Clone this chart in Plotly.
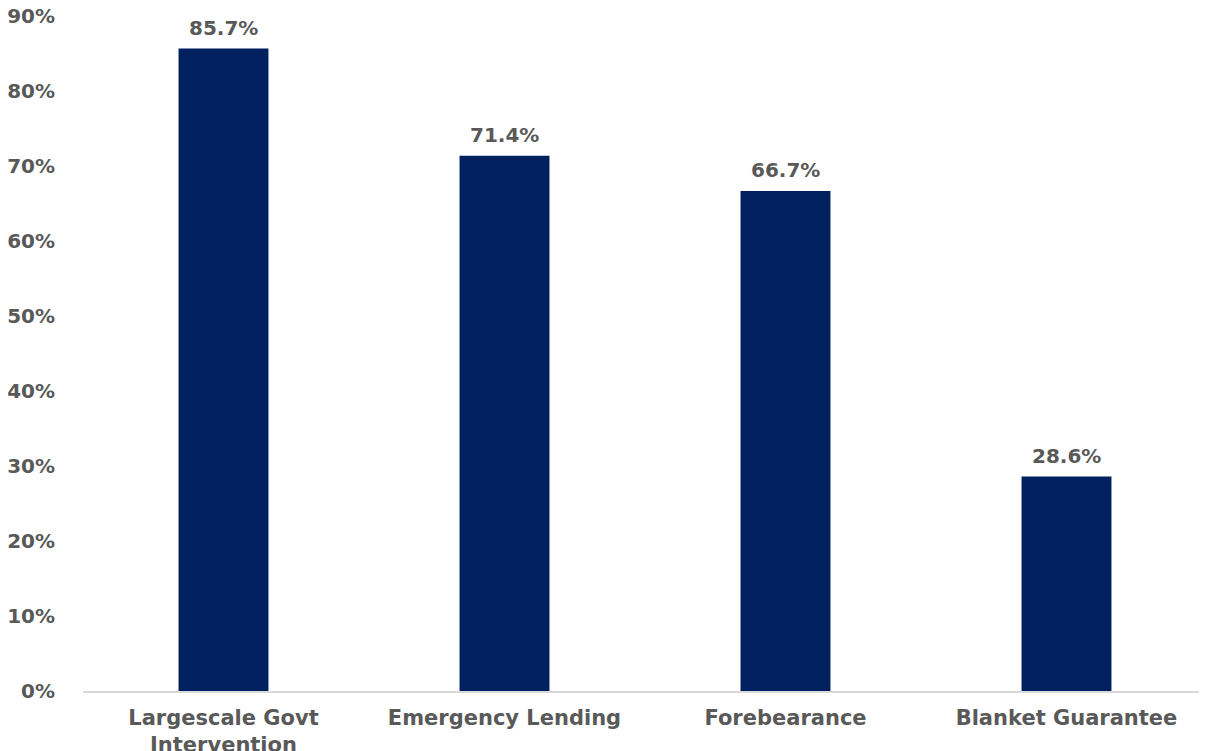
import plotly.graph_objects as go

categories = ["Largescale Govt<br>Intervention", "Emergency Lending", "Forebearance", "Blanket Guarantee"]
values = [0.857, 0.714, 0.667, 0.286]
labels = ["85.7%", "71.4%", "66.7%", "28.6%"]
tick_vals = [0, 0.1, 0.2, 0.3, 0.4, 0.5, 0.6, 0.7, 0.8, 0.9]
tick_text = ["0%", "10%", "20%", "30%", "40%", "50%", "60%", "70%", "80%", "90%"]

FONT = "DejaVu Sans"
GREY = "#595959"
SIZE = 20

fig = go.Figure(go.Bar(
    x=categories, y=values,
    marker=dict(color="#002060", line=dict(width=0)),
    width=0.32,
))
for c, v, t in zip(categories, values, labels):
    fig.add_annotation(x=c, y=v, text=t, showarrow=False, yanchor="bottom",
                       yshift=7, font=dict(family=FONT, size=SIZE, color=GREY, weight="bold"))
fig.update_layout(
    width=1207, height=751,
    margin=dict(l=75, r=8, t=8, b=68),
    paper_bgcolor="white", plot_bgcolor="white",
    showlegend=False,
    font=dict(family=FONT, size=SIZE, color=GREY, weight="bold"),
)
fig.update_yaxes(range=[0, 0.9005], tickvals=tick_vals, ticktext=tick_text,
                 showgrid=False, zeroline=False, showline=False,
                 ticklabelstandoff=27, automargin=False,
                 ticklabeloverflow="allow",
                 tickfont=dict(family=FONT, size=SIZE, color=GREY, weight="bold"))
fig.update_xaxes(showline=True, linecolor="#d9d9d9", linewidth=1.5,
                 showgrid=False, ticks="", ticklabelstandoff=7, automargin=False,
                 tickfont=dict(family=FONT, size=21, color=GREY, weight="bold"))
fig.write_html("out.html")
